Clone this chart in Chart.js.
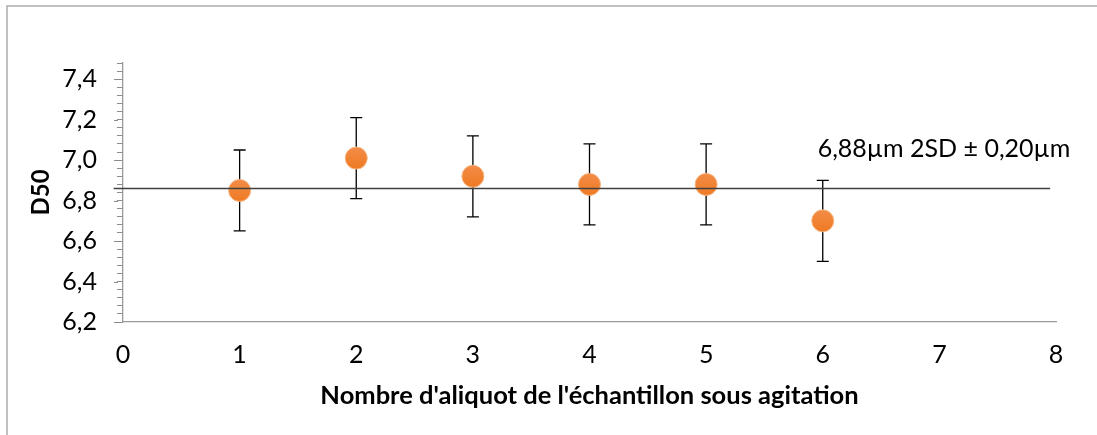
<!DOCTYPE html>
<html>
<head>
<meta charset="utf-8">
<script src="https://cdn.jsdelivr.net/npm/chart.js@4/dist/chart.umd.min.js"></script>
<style>
  html, body { margin: 0; padding: 0; background: #fff; }
  #wrap { position: relative; width: 1097px; height: 435px; }
</style>
</head>
<body>
<div id="wrap"><canvas id="chart" width="1097" height="435"></canvas></div>
<script>
// aliquot number and measured D50 (µm)
const aliquots = [1, 2, 3, 4, 5, 6];
const d50Values = [6.85, 7.01, 6.92, 6.88, 6.88, 6.70];
const d50Errors = [0.20, 0.20, 0.20, 0.20, 0.20, 0.20];

// reference line (mean), drawn a bit past the left axis as in the original
const refLineX = [-0.08, 7.95];
const refLineY = 6.86;
const refLabel = '6,88µm 2SD ± 0,20µm';
const refLabelAt = { x: 7.04, y: 7.015 };

const xTicks = [0, 1, 2, 3, 4, 5, 6, 7, 8];
const yMin = 6.2;
const yMax = 7.48;
const yMinorStep = 0.04;

const fontFamily = 'Lato, "Open Sans", sans-serif';

const scatterPoints = aliquots.map((x, i) => ({ x: x, y: d50Values[i] }));
const linePoints = refLineX.map((x) => ({ x: x, y: refLineY }));

function isMajor(v) {
    return Math.abs(v * 5 - Math.round(v * 5)) < 1e-6;
}

const frameAndBars = {
    id: 'frameAndBars',
    beforeDraw(chart) {
        const ctx = chart.ctx;
        ctx.save();
        ctx.strokeStyle = '#adadad';
        ctx.lineWidth = 1.5;
        ctx.beginPath();
        ctx.moveTo(7, chart.height);
        ctx.lineTo(7, 6);
        ctx.lineTo(chart.width, 6);
        ctx.stroke();
        ctx.restore();
    },
    afterDraw(chart) {
        // longer tick marks for major y values
        const ctx = chart.ctx;
        const yScale = chart.scales.y;
        ctx.save();
        ctx.strokeStyle = '#8c8c8c';
        ctx.lineWidth = 1;
        yScale.ticks.forEach((t) => {
            if (!isMajor(t.value)) return;
            const py = Math.round(yScale.getPixelForValue(t.value)) + 0.5;
            ctx.beginPath();
            ctx.moveTo(yScale.right - 9, py);
            ctx.lineTo(yScale.right - 5, py);
            ctx.stroke();
        });

        // annotation text
        const xScale = chart.scales.x;
        ctx.fillStyle = '#000';
        ctx.font = '25px ' + fontFamily;
        ctx.textAlign = 'center';
        ctx.textBaseline = 'alphabetic';
        ctx.fillText(refLabel, xScale.getPixelForValue(refLabelAt.x), yScale.getPixelForValue(refLabelAt.y));
        ctx.restore();
    },
    beforeDatasetsDraw(chart) {
        const ctx = chart.ctx;
        const xScale = chart.scales.x;
        const yScale = chart.scales.y;
        ctx.save();
        ctx.strokeStyle = '#000';
        ctx.lineWidth = 1.3;
        aliquots.forEach((x, i) => {
            const px = xScale.getPixelForValue(x);
            const top = yScale.getPixelForValue(d50Values[i] + d50Errors[i]);
            const bottom = yScale.getPixelForValue(d50Values[i] - d50Errors[i]);
            ctx.beginPath();
            ctx.moveTo(px, top);
            ctx.lineTo(px, bottom);
            ctx.moveTo(px - 6, top);
            ctx.lineTo(px + 6, top);
            ctx.moveTo(px - 6, bottom);
            ctx.lineTo(px + 6, bottom);
            ctx.stroke();
        });
        ctx.restore();
    }
};

function pointFill(context) {
    const el = context.element;
    if (!el || el.y === undefined) return '#F07F2C';
    const g = context.chart.ctx.createLinearGradient(0, el.y - 11, 0, el.y + 11);
    g.addColorStop(0, '#F38C48');
    g.addColorStop(1, '#EE7A22');
    return g;
}

new Chart(document.getElementById('chart'), {
    type: 'scatter',
    data: {
        datasets: [
            {
                type: 'line',
                data: linePoints,
                borderColor: '#404040',
                borderWidth: 1.5,
                pointRadius: 0,
                fill: false,
                clip: false,
                order: 0
            },
            {
                data: scatterPoints,
                backgroundColor: pointFill,
                borderColor: '#F7B582',
                borderWidth: 1,
                pointRadius: 11,
                order: 1
            }
        ]
    },
    options: {
        responsive: false,
        animation: false,
        events: [],
        layout: { padding: { top: 63, right: 41, left: 0, bottom: 0 } },
        plugins: {
            legend: { display: false },
            tooltip: { enabled: false }
        },
        scales: {
            x: {
                type: 'linear',
                min: xTicks[0],
                max: xTicks[xTicks.length - 1],
                afterBuildTicks: (scale) => {
                    scale.ticks = xTicks.map((v) => ({ value: v }));
                },
                afterFit: (scale) => { scale.height = 113; },
                grid: { display: false, drawTicks: false },
                border: { display: true, color: '#9a9a9a', width: 1.3 },
                ticks: {
                    color: '#000',
                    padding: 18,
                    font: { family: fontFamily, size: 25 }
                },
                title: {
                    display: true,
                    text: "Nombre d'aliquot de l'échantillon sous agitation",
                    color: '#000',
                    font: { family: fontFamily, size: 25.5, weight: 'bold' },
                    padding: { top: 0, bottom: 24 }
                }
            },
            y: {
                min: yMin,
                max: yMax,
                afterFit: (scale) => { scale.width = 123; },
                grid: {
                    display: true,
                    drawOnChartArea: false,
                    drawTicks: true,
                    tickLength: 6,
                    tickColor: '#8c8c8c'
                },
                border: { display: true, color: '#9a9a9a', width: 1.3 },
                ticks: {
                    stepSize: yMinorStep,
                    autoSkip: false,
                    padding: 20,
                    color: '#000',
                    font: { family: fontFamily, size: 25 },
                    callback: (v) => isMajor(v) ? v.toFixed(1).replace('.', ',') : ''
                },
                title: {
                    display: true,
                    text: 'D50',
                    color: '#000',
                    font: { family: fontFamily, size: 24, weight: 'bold' },
                    padding: { top: 27, bottom: 0 }
                }
            }
        }
    },
    plugins: [frameAndBars]
});
</script>
</body>
</html>
